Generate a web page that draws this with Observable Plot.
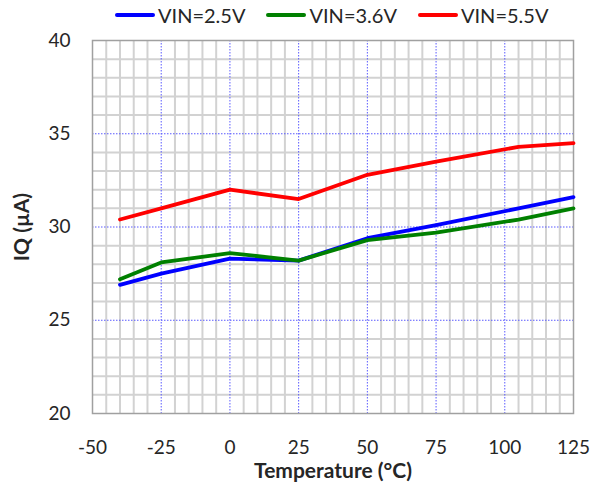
<!DOCTYPE html>
<html>
<head>
<meta charset="utf-8">
<script src="https://cdn.jsdelivr.net/npm/d3@7"></script>
<script src="https://cdn.jsdelivr.net/npm/@observablehq/plot@0.6"></script>
<style>
  html, body { margin: 0; padding: 0; background: #fff; }
  body { width: 603px; height: 485px; overflow: hidden; font-family: Lato, "Open Sans", sans-serif; }
  #legend { position: relative; height: 34px; }
  #legend .items { position: absolute; top: 4px; left: 115px; display: flex; align-items: center; height: 22px; }
  #legend .item { display: flex; align-items: center; margin-right: 21px; font-size: 20px; color: #262626; line-height: 22px; }
  #legend .sw { display: inline-block; width: 40px; height: 4px; border-radius: 2px; margin-right: 3px; }
  g[aria-label$="axis label"] { font-weight: bold; font-size: 21px; }
</style>
</head>
<body>
<div id="legend"><div class="items"></div></div>
<div id="chart"></div>
<script>
const temperatures = [-40, -25, 0, 25, 50, 75, 105, 125];
const iqVin25 = [26.9, 27.5, 28.3, 28.2, 29.4, 30.1, 31.0, 31.6];
const iqVin36 = [27.2, 28.1, 28.6, 28.2, 29.3, 29.7, 30.4, 31.0];
const iqVin55 = [30.4, 31.0, 32.0, 31.5, 32.8, 33.5, 34.3, 34.5];
const seriesNames = ["VIN=2.5V", "VIN=3.6V", "VIN=5.5V"];
const seriesColors = ["#0000ff", "#008000", "#ff0000"];
const xTicks = [-50, -25, 0, 25, 50, 75, 100, 125];
const yTicks = [20, 25, 30, 35, 40];

const seriesValues = [iqVin25, iqVin36, iqVin55];
const rows = seriesValues.flatMap((vals, i) =>
  vals.map((v, j) => ({series: seriesNames[i], t: temperatures[j], iq: v})));

const minorX = d3.range(-50, 126, 5).filter(v => !xTicks.includes(v));
const minorY = d3.range(20, 41, 1).filter(v => !yTicks.includes(v));
const majorX = xTicks.filter(v => v > -50 && v < 125);
const majorY = yTicks.filter(v => v > 20 && v < 40);

// legend
const items = document.querySelector("#legend .items");
seriesNames.forEach((name, i) => {
  const it = document.createElement("div");
  it.className = "item";
  const sw = document.createElement("span");
  sw.className = "sw";
  sw.style.background = seriesColors[i];
  it.appendChild(sw);
  it.appendChild(document.createTextNode(name));
  items.appendChild(it);
});

const chart = Plot.plot({
  width: 603,
  height: 451,
  marginTop: 6,
  marginBottom: 72,
  marginLeft: 92,
  marginRight: 30,
  style: {fontFamily: "Lato, 'Open Sans', sans-serif", fontSize: "19px", color: "#262626", background: "#fff", overflow: "visible"},
  x: {domain: [-50, 125]},
  y: {domain: [20, 40]},
  color: {domain: seriesNames, range: seriesColors},
  marks: [
    Plot.gridX(minorX, {stroke: "#d2d2d2", strokeOpacity: 1, strokeWidth: 2}),
    Plot.gridY(minorY, {stroke: "#d2d2d2", strokeOpacity: 1, strokeWidth: 2}),
    Plot.gridX(majorX, {stroke: "#5a5aff", strokeOpacity: 1, strokeWidth: 1, strokeDasharray: "1.5,1.5"}),
    Plot.gridY(majorY, {stroke: "#5a5aff", strokeOpacity: 1, strokeWidth: 1, strokeDasharray: "1.5,1.5"}),
    Plot.frame({stroke: "#a0a0a0", strokeWidth: 1.5}),
    Plot.axisX({ticks: xTicks, tickFormat: d => String(d), tickSize: 0, tickPadding: 27, label: "Temperature (°C)", labelAnchor: "center", labelArrow: "none", labelOffset: 64}),
    Plot.axisY({ticks: yTicks, tickFormat: d => String(d), tickSize: 0, tickPadding: 22, label: "IQ (µA)", labelAnchor: "center", labelArrow: "none", labelOffset: 78}),
    Plot.line(rows, {x: "t", y: "iq", z: "series", stroke: "series", strokeWidth: 3.8, strokeLinejoin: "round", strokeLinecap: "round"})
  ]
});
document.getElementById("chart").appendChild(chart);
</script>
</body>
</html>
